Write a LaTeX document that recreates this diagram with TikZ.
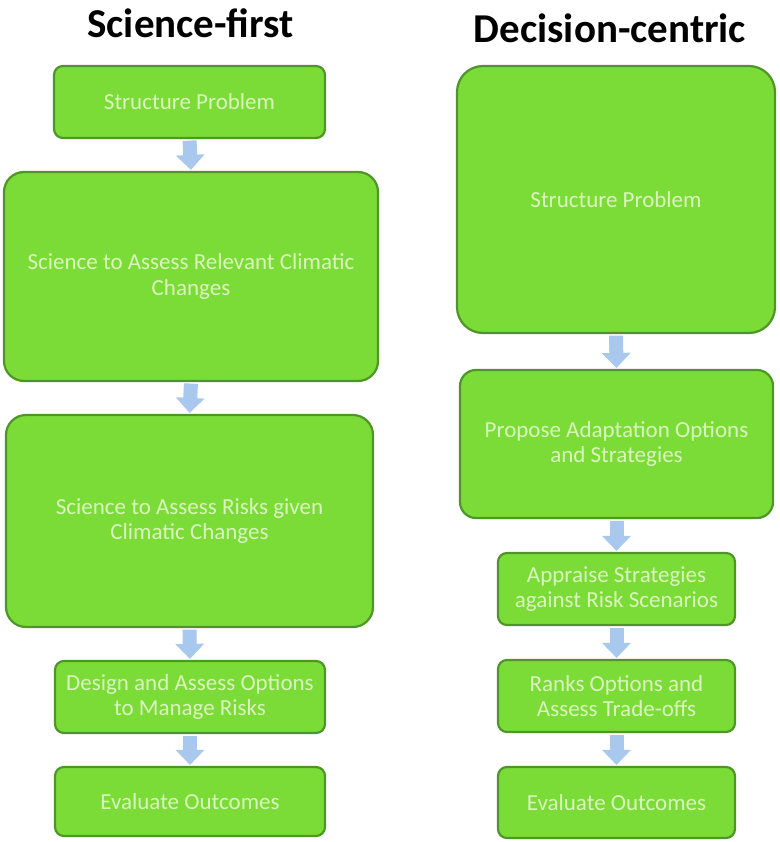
\documentclass[tikz,border=0pt]{standalone}
\usepackage{fontspec}
\setmainfont{Carlito}
\usetikzlibrary{arrows.meta,calc}
\definecolor{boxfill}{RGB}{123,220,55}
\definecolor{boxline}{RGB}{78,150,40}
\definecolor{boxtext}{RGB}{218,245,190}
\definecolor{arrowblue}{RGB}{168,200,238}
\begin{document}
\begin{tikzpicture}[x=1pt,y=-1pt,
  greenbox/.style={draw=boxline,fill=boxfill,line width=2.2pt,rounded corners=#1,
    align=center,text=boxtext,font=\fontsize{23}{25.5}\selectfont,inner sep=0pt},
  greenbox/.default=9pt,
  titletext/.style={font=\fontsize{41}{46}\selectfont\bfseries,text=black,anchor=base},
  flow/.style={line width=14pt,draw=arrowblue,-{Triangle[width=28pt,length=15pt]},shorten <=1.5pt,shorten >=1pt}
]
\useasboundingbox[fill=white] (0,0) rectangle (779,842);
% titles
\node[titletext] (t1) at (190.5,38) {Science-first};
\node[titletext] (t2) at (610,43) {Decision-centric};
% left column
\node[greenbox=9pt,minimum width=271pt,minimum height=72pt] (L1) at (189.5,102) {Structure Problem};
\node[greenbox=20pt,minimum width=374pt,minimum height=209pt] (L2) at (191,276.5) {Science to Assess Relevant Climatic\\Changes};
\node[greenbox=20pt,minimum width=367pt,minimum height=212pt] (L3) at (189.5,521) {Science to Assess Risks given\\Climatic Changes};
\node[greenbox=9pt,minimum width=270pt,minimum height=72pt] (L4) at (190,697) {Design and Assess Options\\to Manage Risks};
\node[greenbox=9pt,minimum width=270pt,minimum height=69pt] (L5) at (190,801.5) {Evaluate Outcomes};
% right column
\node[greenbox=26pt,minimum width=318pt,minimum height=267pt] (R1) at (616,199.5) {Structure Problem};
\node[greenbox=16pt,minimum width=313pt,minimum height=148pt] (R2) at (616.5,444) {Propose Adaptation Options\\and Strategies};
\node[greenbox=9pt,minimum width=237pt,minimum height=72pt] (R3) at (616.5,589) {Appraise Strategies\\against Risk Scenarios};
\node[greenbox=9pt,minimum width=237pt,minimum height=72pt] (R4) at (616.5,696) {Ranks Options and\\Assess Trade-offs};
\node[greenbox=9pt,minimum width=237pt,minimum height=71pt] (R5) at (616.5,802.5) {Evaluate Outcomes};
% arrows
\draw[flow] (L1.south) -- (L2.north);
\draw[flow] (L2.south) -- (L3.north);
\draw[flow] (L3.south) -- (L4.north);
\draw[flow] (L4.south) -- (L5.north);
\draw[flow] (R1.south) -- (R2.north);
\draw[flow] (R2.south) -- (R3.north);
\draw[flow] (R3.south) -- (R4.north);
\draw[flow] (R4.south) -- (R5.north);
\end{tikzpicture}
\end{document}
